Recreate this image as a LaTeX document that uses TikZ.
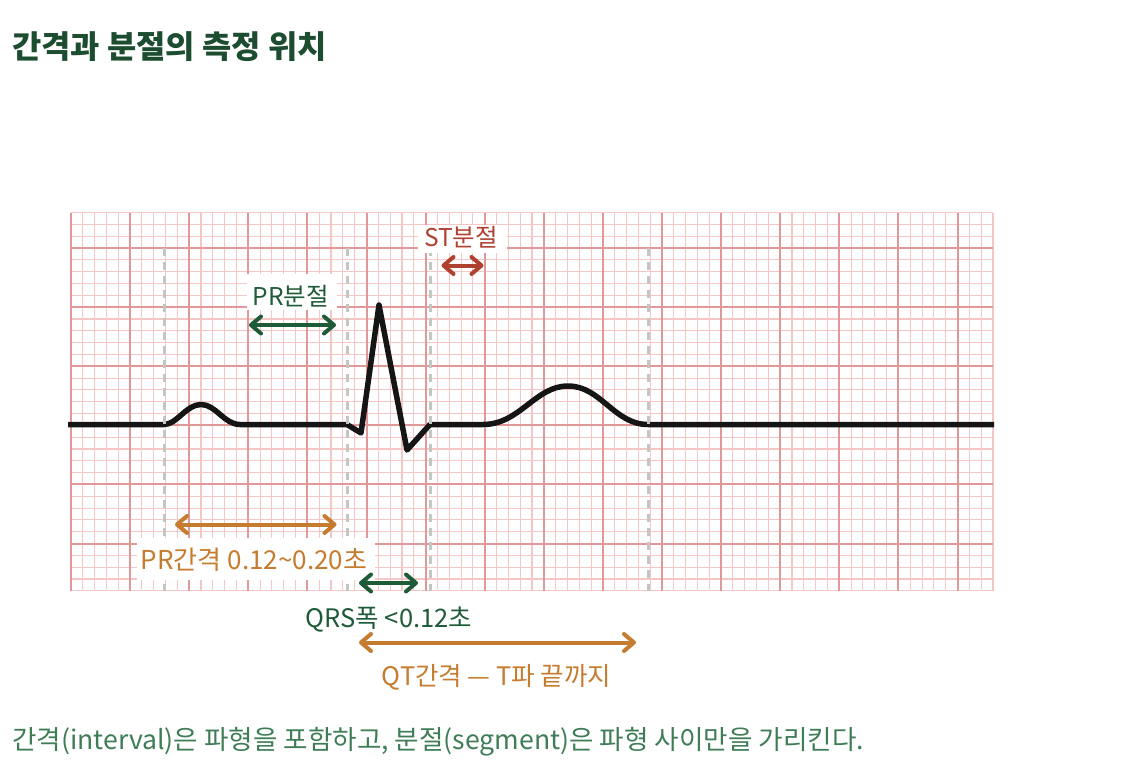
\documentclass[tikz,border=0pt]{standalone}
\usepackage{fontspec}
\setmainfont{Noto Sans CJK KR}
\usetikzlibrary{arrows.meta}
\definecolor{gmin}{HTML}{F4C6C6}
\definecolor{gmaj}{HTML}{E09898}
\definecolor{dgreen}{HTML}{1E5B37}
\definecolor{tgreen}{HTML}{1D4D30}
\definecolor{cgreen}{HTML}{3F7D57}
\definecolor{sred}{HTML}{B0412F}
\definecolor{ornge}{HTML}{C57C2E}
\definecolor{dgray}{HTML}{C3C7C3}
\definecolor{ecgk}{HTML}{151515}
\tikzset{
  minorline/.style={gmin, line width=1.1pt},
  majorline/.style={gmaj, line width=2pt},
  guide/.style={dgray, line width=3pt, dash pattern=on 8pt off 6pt},
  ecg/.style={ecgk, line width=5.5pt, line join=round},
  dblarrow/.style={line width=4pt, {Straight Barb[length=10pt,width=17pt,round]}-{Straight Barb[length=10pt,width=17pt,round]}},
  lbl/.style={inner sep=0pt},
  labelbox/.style={fill=white, draw=none},
}
\begin{document}
\begin{tikzpicture}[x=1pt,y=-1pt]
\useasboundingbox (0,0) rectangle (1133,779);
\fill[white] (0,0) rectangle (1133,779);
% grid
\foreach \i in {0,...,78}{
  \pgfmathtruncatemacro{\m}{mod(\i,5)}
  \ifnum\m=0\relax\else
    \draw[minorline] ({71+\i*11.82},212.6) -- ({71+\i*11.82},590.84);
  \fi}
\foreach \j in {0,...,32}{
  \pgfmathtruncatemacro{\m}{mod(\j,5)}
  \ifnum\m=3\relax\else
    \draw[minorline] (71,{212.6+\j*11.82}) -- (992.96,{212.6+\j*11.82});
  \fi}
\foreach \i in {0,5,...,75}{
  \draw[majorline] ({71+\i*11.82},212.6) -- ({71+\i*11.82},590.84);}
\foreach \j in {3,8,...,28}{
  \draw[majorline] (71,{212.6+\j*11.82}) -- (992.96,{212.6+\j*11.82});}
% ECG trace
\draw[ecg] (68,424.5) -- (164,424.5)
  .. controls (177,424.5) and (186,404.5) .. (201,404.5)
  .. controls (216,404.5) and (224,424.5) .. (240,424.5)
  -- (347,424.5) -- (361,433) -- (379,305) -- (407,450) -- (430,424.5)
  -- (483,424.5)
  .. controls (520,424.5) and (535,386) .. (568,386)
  .. controls (601,386) and (614,424.5) .. (648,424.5)
  -- (994,424.5);
% guide lines
\foreach \x in {164,347,430,648}{
  \draw[guide] (\x,248) -- (\x,590.8);}
% label boxes
\fill[labelbox] (246.7,274) rectangle (337.3,310);
\fill[labelbox] (418.3,225) rectangle (506.7,253.3);
\fill[labelbox] (136.7,538) rectangle (375,580);
% labels
\node[lbl, text=dgreen, font=\fontsize{24.5}{28}\selectfont] (lprseg) at (291,296.5) {PR분절};
\node[lbl, text=sred, font=\fontsize{24.5}{28}\selectfont] (lstseg) at (461,237) {ST분절};
\node[lbl, text=ornge, font=\fontsize{26}{30}\selectfont] (lprint) at (254,559.5) {PR간격 0.12\textasciitilde0.20초};
\node[lbl, text=dgreen, font=\fontsize{25.5}{30}\selectfont] (lqrs) at (389,619.5) {QRS폭 <0.12초};
\node[lbl, text=ornge, font=\fontsize{25.5}{30}\selectfont] (lqt) at (496.5,677.5) {QT간격 — T파 끝까지};
% arrows
\coordinate (a1) at (249,325); \coordinate (b1) at (336,325);
\coordinate (a2) at (441.5,265.5); \coordinate (b2) at (483.5,265.5);
\coordinate (a3) at (175,524.5); \coordinate (b3) at (336.5,524.5);
\coordinate (a4) at (359,583); \coordinate (b4) at (418,583);
\coordinate (a5) at (359,642.5); \coordinate (b5) at (636,642.5);
\draw[dblarrow, dgreen] (a1) -- (b1);
\draw[dblarrow, sred] (a2) -- (b2);
\draw[dblarrow, ornge] (a3) -- (b3);
\draw[dblarrow, dgreen] (a4) -- (b4);
\draw[dblarrow, ornge] (a5) -- (b5);
% title and caption
\node[anchor=west, inner sep=0pt, text=tgreen, font=\fontsize{31.8}{36}\bfseries] (title) at (12,46.5) {간격과 분절의 측정 위치};
\node[anchor=west, inner sep=0pt, text=cgreen, font=\fontsize{26.6}{30}\selectfont] (caption) at (12,742) {간격(interval)은 파형을 포함하고, 분절(segment)은 파형 사이만을 가리킨다.};
\end{tikzpicture}
\end{document}
